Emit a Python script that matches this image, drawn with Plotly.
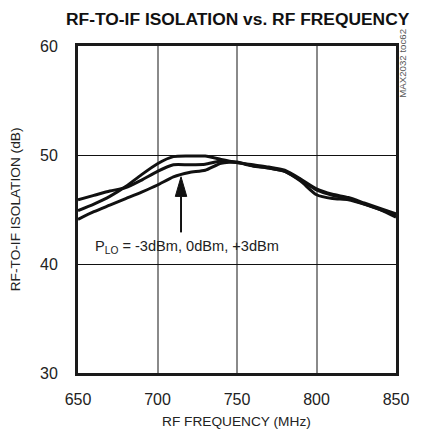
import plotly.graph_objects as go

# ---- data ----
freq_mhz = [650, 660, 670, 680, 690, 700, 710, 720, 730, 740, 750,
            760, 770, 780, 790, 800, 810, 820, 830, 840, 850]
iso_a = [45.9, 46.3, 46.7, 47.0, 47.7, 48.5, 49.1, 49.1, 49.15, 49.45, 49.3,
         49.0, 48.8, 48.5, 47.6, 46.35, 46.0, 45.9, 45.5, 45.0, 44.3]
iso_b = [44.9, 45.5, 46.2, 47.1, 48.2, 49.2, 49.85, 49.9, 49.9, 49.6, 49.3,
         49.1, 48.9, 48.6, 47.8, 46.9, 46.4, 46.1, 45.6, 45.1, 44.6]
iso_c = [44.1, 44.8, 45.4, 46.0, 46.6, 47.25, 48.0, 48.4, 48.6, 49.25, 49.35,
         49.0, 48.8, 48.5, 47.7, 46.8, 46.3, 46.0, 45.5, 45.0, 44.5]
series = [iso_a, iso_b, iso_c]

x_ticks = [650, 700, 750, 800, 850]
y_ticks = [30, 40, 50, 60]

title_text = "RF-TO-IF ISOLATION vs. RF FREQUENCY"
x_title = "RF FREQUENCY (MHz)"
y_title = "RF-TO-IF ISOLATION (dB)"
note_text = "P<sub>LO</sub> = -3dBm, 0dBm, +3dBm"
tag_text = "MAX2032 toc62"

# arrow (data units)
arrow_freq = 714.8
arrow_tail = 42.9
arrow_base = 46.2
arrow_tip = 48.0
arrow_half = 3.6

FONT = "Liberation Sans, Arial, Helvetica, sans-serif"

fig = go.Figure()
for s in series:
    fig.add_trace(go.Scatter(x=freq_mhz, y=s, mode="lines",
                             line=dict(color="#111111", width=3, shape="spline", smoothing=0.6),
                             showlegend=False, hoverinfo="skip"))

fig.update_layout(
    width=421, height=434,
    margin=dict(l=78, r=16, t=46, b=61),
    paper_bgcolor="white", plot_bgcolor="white",
    font=dict(family=FONT, color="#222222"),
    xaxis=dict(range=[650, 850], tickvals=x_ticks, ticks="", showgrid=True,
               gridcolor="#8a8a8a", gridwidth=1.5, zeroline=False,
               showline=True, linecolor="#1a1a1a", linewidth=3, mirror=True,
               tickfont=dict(size=16, family=FONT, color="#222222"),
               ticklabelstandoff=10),
    yaxis=dict(range=[30, 60], tickvals=y_ticks, ticks="", showgrid=True,
               gridcolor="#111111", gridwidth=1, zeroline=False,
               showline=True, linecolor="#1a1a1a", linewidth=3, mirror=True,
               tickfont=dict(size=16, family=FONT, color="#222222"),
               ticklabelstandoff=14),
)

fig.add_shape(type="line", x0=arrow_freq, x1=arrow_freq, y0=arrow_tail, y1=arrow_base,
              xref="x", yref="y", line=dict(color="#111111", width=2))
fig.add_shape(type="path",
              path=f"M {arrow_freq-arrow_half},{arrow_base} L {arrow_freq+arrow_half},{arrow_base} L {arrow_freq},{arrow_tip} Z",
              xref="x", yref="y", fillcolor="#111111", line=dict(color="#111111", width=1))

fig.add_annotation(text=note_text, x=659.2, y=41.56, xref="x", yref="y",
                   xanchor="left", yanchor="middle", showarrow=False,
                   font=dict(size=14.6, family=FONT, color="#222222"))
fig.add_annotation(text="<b>" + title_text + "</b>", x=0.502, y=1.0826, xref="paper", yref="paper",
                   xanchor="center", yanchor="middle", showarrow=False,
                   font=dict(size=17.4, family=FONT, color="#111111"))
fig.add_annotation(text=x_title, x=0.4985, y=-0.1468, xref="paper", yref="paper",
                   xanchor="center", yanchor="middle", showarrow=False,
                   font=dict(size=13.7, family=FONT, color="#222222"))
fig.add_annotation(text=y_title, x=-0.1957, y=0.5, xref="paper", yref="paper",
                   xanchor="center", yanchor="middle", showarrow=False, textangle=-90,
                   font=dict(size=13.7, family=FONT, color="#222222"))
fig.add_annotation(text=tag_text, x=1.0183, y=0.948, xref="paper", yref="paper",
                   xanchor="center", yanchor="middle", showarrow=False, textangle=-90,
                   font=dict(size=9.7, family=FONT, color="#555555"))

fig.write_html("out.html", config={"displayModeBar": False},
               post_script="document.body.style.margin='0';")
